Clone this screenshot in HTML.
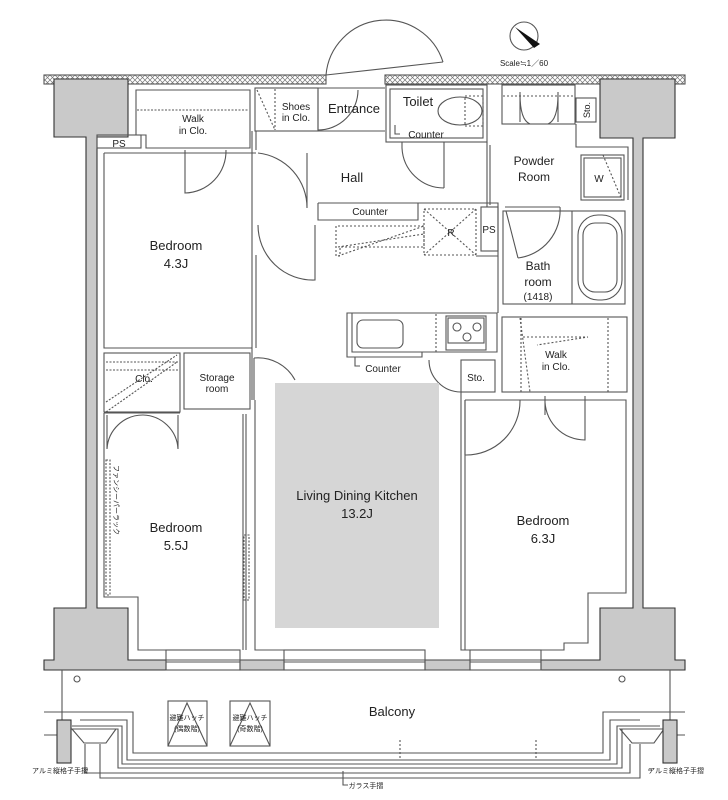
<!DOCTYPE html>
<html><head><meta charset="utf-8"><style>
html,body{margin:0;padding:0;background:#fff;width:728px;height:800px;overflow:hidden}
svg{display:block}
text{font-family:"Liberation Sans","Noto Sans CJK JP",sans-serif;fill:#222}
</style></head><body>
<svg width="728" height="800" viewBox="0 0 728 800" xmlns="http://www.w3.org/2000/svg">
<defs>
<pattern id="hx" width="5" height="5" patternUnits="userSpaceOnUse">
<rect width="5" height="5" fill="#fff"/><path d="M0 0L5 5M5 0L0 5" stroke="#777" stroke-width="0.7"/>
</pattern>
</defs>
<g fill="none" stroke="#555" stroke-width="1.1">
<!-- top hatched band -->
<rect x="44" y="75" width="282" height="9" fill="url(#hx)"/>
<rect x="385" y="75" width="300" height="9" fill="url(#hx)"/>
<!-- entrance door arc -->
<path d="M326 75 A60 60 0 0 1 443 62"/>
<line x1="326" y1="75" x2="443" y2="62"/>
<!-- pillars gray -->
<path d="M54 79H128V137H97V608H128V660H166V670H44V660H54V608H86V137H54Z" fill="#c9c9c9" stroke="#333"/>
<path d="M600 79H675V138H643V608H675V660H685V670H541V660H600V608H633V138H600Z" fill="#c9c9c9" stroke="#333"/>
<rect x="240" y="660" width="44" height="10" fill="#c9c9c9"/>
<rect x="425" y="660" width="45" height="10" fill="#c9c9c9"/>
<!-- windows -->
<rect x="166" y="650" width="74" height="20"/><line x1="166" y1="660" x2="240" y2="660"/><line x1="166" y1="662" x2="240" y2="662"/>
<rect x="284" y="650" width="141" height="20"/><line x1="284" y1="660" x2="425" y2="660"/><line x1="284" y1="662" x2="425" y2="662"/>
<rect x="470" y="650" width="71" height="20"/><line x1="470" y1="660" x2="541" y2="660"/><line x1="470" y1="662" x2="541" y2="662"/>
<!-- walk in clo left -->
<path d="M136 90H250V148H146V135H136Z"/>
<line x1="137" y1="110" x2="249" y2="110" stroke-dasharray="2 1.5"/>
<rect x="97" y="135" width="44" height="13"/>
<!-- shoes / entrance -->
<rect x="255" y="88" width="63" height="43"/>
<line x1="275" y1="89" x2="275" y2="130" stroke-dasharray="2 2"/>
<line x1="257" y1="90" x2="275" y2="130" stroke-dasharray="2 2"/>
<path d="M318 88H385 M318 131H385"/>
<path d="M318 90V130 M318 130A40 40 0 0 0 358 90"/>
<!-- toilet -->
<rect x="386" y="85" width="101" height="57"/><rect x="390" y="89" width="93" height="49"/>
<ellipse cx="460" cy="111" rx="22" ry="14"/>
<rect x="465" y="96" width="18" height="30" stroke-dasharray="2 2"/>
<path d="M395 125V134H400"/>
<!-- toilet door -->
<path d="M402 142V148 M444 142V188 M402 148A42 42 0 0 0 444 188"/>
<!-- powder -->
<rect x="502" y="85" width="73" height="39"/>
<path d="M503 96H575" stroke-dasharray="2 2"/>
<path d="M520 92V122 M558 92V122 M520 94Q520 120 530 124 M558 94Q558 120 548 124"/>
<rect x="576" y="98" width="20" height="24"/>
<path d="M576 124V147H628V200 M487 142V207 M490 145V205"/>
<rect x="581" y="155" width="43" height="45"/><rect x="584" y="158" width="37" height="39"/>
<line x1="603" y1="155" x2="622" y2="200" stroke-dasharray="2 2"/>
<!-- bath -->
<rect x="503" y="211" width="122" height="93"/>
<line x1="572" y1="211" x2="572" y2="304"/>
<rect x="578" y="215" width="44" height="85" rx="20"/>
<rect x="583" y="223" width="34" height="69" rx="12"/>
<path d="M505 207H560 M506 211L518 258 M560 207A48 48 0 0 1 518 258"/>
<rect x="481" y="207" width="17" height="44"/>
<!-- hall counter / R -->
<path d="M318 203H498V256H476 M318 203V220H418V203"/>
<rect x="424" y="209" width="52" height="46" stroke-dasharray="2 2"/>
<path d="M424 209L476 255 M476 209L424 255" stroke-dasharray="2 2"/>
<path d="M338 226H424V247H340V256H336V226" stroke-dasharray="2 2"/>
<path d="M338 256L424 226 M338 247L424 234" stroke-dasharray="2 2"/>
<path d="M498 256V313"/>
<!-- kitchen counter -->
<path d="M347 313H497V352H422V357H347Z"/>
<path d="M352 313V352H422"/>
<rect x="357" y="320" width="46" height="28" rx="6"/>
<line x1="436" y1="314" x2="436" y2="352" stroke-dasharray="2 2"/>
<rect x="446" y="316" width="40" height="34"/><rect x="448" y="318" width="36" height="25"/>
<circle cx="457" cy="327" r="4"/><circle cx="477" cy="327" r="4"/><circle cx="467" cy="337" r="4"/>
<path d="M355 357V366H360"/>
<!-- sto -->
<rect x="461" y="360" width="34" height="32"/>
<path d="M429 360A32 32 0 0 0 461 392"/>
<!-- walk in clo right -->
<rect x="502" y="317" width="125" height="75"/>
<path d="M521 318V392 M608 318V392" stroke-dasharray="2 2"/>
<path d="M523 337H588L537 345 M520 318L530 392" stroke-dasharray="2 2"/>
<!-- hall walls -->
<path d="M252 131V400 M256 131V150 M256 153H250 M256 131H318"/>
<path d="M258 153A55 55 0 0 1 307 208V153"/>
<path d="M258 225A55 55 0 0 0 315 280V225"/>
<path d="M256 255V348"/>
<!-- bedroom 4.3 -->
<path d="M104 153V348H252 M104 153H252"/>
<path d="M185 150V193A42 42 0 0 0 226 150"/>
<!-- clo / storage -->
<rect x="104" y="353" width="76" height="59"/>
<path d="M106 362H179 M106 370H179 M106 402L177 355 M106 412L177 362" stroke-dasharray="2 1.5"/>
<rect x="184" y="353" width="66" height="56"/>
<path d="M254 358V400 M254 358A42 42 0 0 1 295 380" />
<!-- bedroom 5.5 -->
<path d="M104 413V597H138V650H166 M104 413H180 M243 414V650 M246 414V650"/>
<path d="M107 415V449 M107 449A36 36 0 0 1 143 415 M178 415V449 M178 449A36 36 0 0 0 143 415"/>
<rect x="106" y="460" width="4" height="135" stroke-dasharray="2 1.5"/>
<rect x="244" y="535" width="5" height="65" stroke-dasharray="2 1.5"/>
<!-- LDK walls -->
<path d="M255 400V650H284 M461 392V650H470 M465 400V650"/>
<!-- bedroom 6.3 -->
<path d="M465 400H626V593H588V643H564V650H541"/>
<path d="M465 400V455 M465 455A54 54 0 0 0 520 400"/>
<path d="M545 396V415 M545 398A40 40 0 0 0 585 440V396"/>
<!-- balcony -->
<path d="M44 712H133V753H603V712H685 M44 735H60 M675 735H685"/>
<path d="M80 720H127V760H610V720H640"/>
<path d="M72 726H122V764H617V726H660"/>
<path d="M75 729H118V768H622V729H658"/>
<path d="M85 744V773H630V744"/>
<path d="M100 744V778H640V744"/>
<path d="M72 729H116L106 743H84Z"/><path d="M620 729H664L654 743H632Z"/>
<line x1="62" y1="670" x2="62" y2="720"/><line x1="670" y1="670" x2="670" y2="720"/>
<rect x="57" y="720" width="14" height="43" fill="#c9c9c9" stroke="#333"/>
<rect x="663" y="720" width="14" height="43" fill="#c9c9c9" stroke="#333"/>
<circle cx="77" cy="679" r="3"/><circle cx="622" cy="679" r="3"/>
<rect x="168" y="701" width="39" height="45"/><path d="M168 746L187 703L207 746"/>
<rect x="230" y="701" width="40" height="45"/><path d="M230 746L250 703L270 746"/>
<path d="M400 740V760 M536 740V760" stroke-dasharray="2 2"/>
<path d="M343 771V785H348 M88 770H84 M648 770H652"/>
<!-- compass -->
<circle cx="524" cy="36" r="14"/>
</g>
<path d="M515 27L540 44L534 48Z" fill="#111"/>
<rect x="275" y="383" width="164" height="245" fill="#d6d6d6"/>
<g font-size="13" text-anchor="middle">
<text x="176" y="250">Bedroom</text><text x="176" y="268">4.3J</text>
<text x="176" y="532">Bedroom</text><text x="176" y="550">5.5J</text>
<text x="543" y="525">Bedroom</text><text x="543" y="543">6.3J</text>
<text x="357" y="500">Living Dining Kitchen</text><text x="357" y="518">13.2J</text>
<text x="352" y="182">Hall</text>
<text x="352" y="175" font-size="0"> </text>
<text x="354" y="113">Entrance</text>
<text x="534" y="165" font-size="12">Powder</text><text x="534" y="181" font-size="12">Room</text>
<text x="538" y="270" font-size="12">Bath</text><text x="538" y="286" font-size="12">room</text>
<text x="538" y="300" font-size="10">(1418)</text>
<text x="418" y="106">Toilet</text>
<text x="392" y="716" font-size="13">Balcony</text>
</g>
<g font-size="10" text-anchor="middle">
<text x="193" y="122">Walk</text><text x="193" y="134">in Clo.</text>
<text x="296" y="110">Shoes</text><text x="296" y="121">in Clo.</text>
<text x="426" y="138">Counter</text>
<text x="370" y="215">Counter</text>
<text x="383" y="372">Counter</text>
<text x="476" y="381">Sto.</text>
<text x="556" y="358">Walk</text><text x="556" y="370">in Clo.</text>
<text x="451" y="236">R</text><text x="489" y="233">PS</text>
<text x="119" y="147">PS</text>
<text x="144" y="382">Clo.</text>
<text x="217" y="381">Storage</text><text x="217" y="392">room</text>
<text x="599" y="182">W</text>
<text x="524" y="66" font-size="8">Scale≒1／60</text>
</g>
<text x="590" y="110" font-size="9" transform="rotate(-90 590 110)" text-anchor="middle">Sto.</text>
<text x="114" y="500" font-size="7" transform="rotate(90 114 500)" text-anchor="middle">ファンシーパーラック</text>
<g font-size="7" text-anchor="middle">
<text x="187" y="720">避難ハッチ</text><text x="187" y="731">(偶数階)</text>
<text x="250" y="720">避難ハッチ</text><text x="250" y="731">(奇数階)</text>
<text x="60" y="773">アルミ縦格子手摺</text>
<text x="676" y="773">アルミ縦格子手摺</text>
<text x="366" y="788">ガラス手摺</text>
</g>
</svg>
</body></html>
